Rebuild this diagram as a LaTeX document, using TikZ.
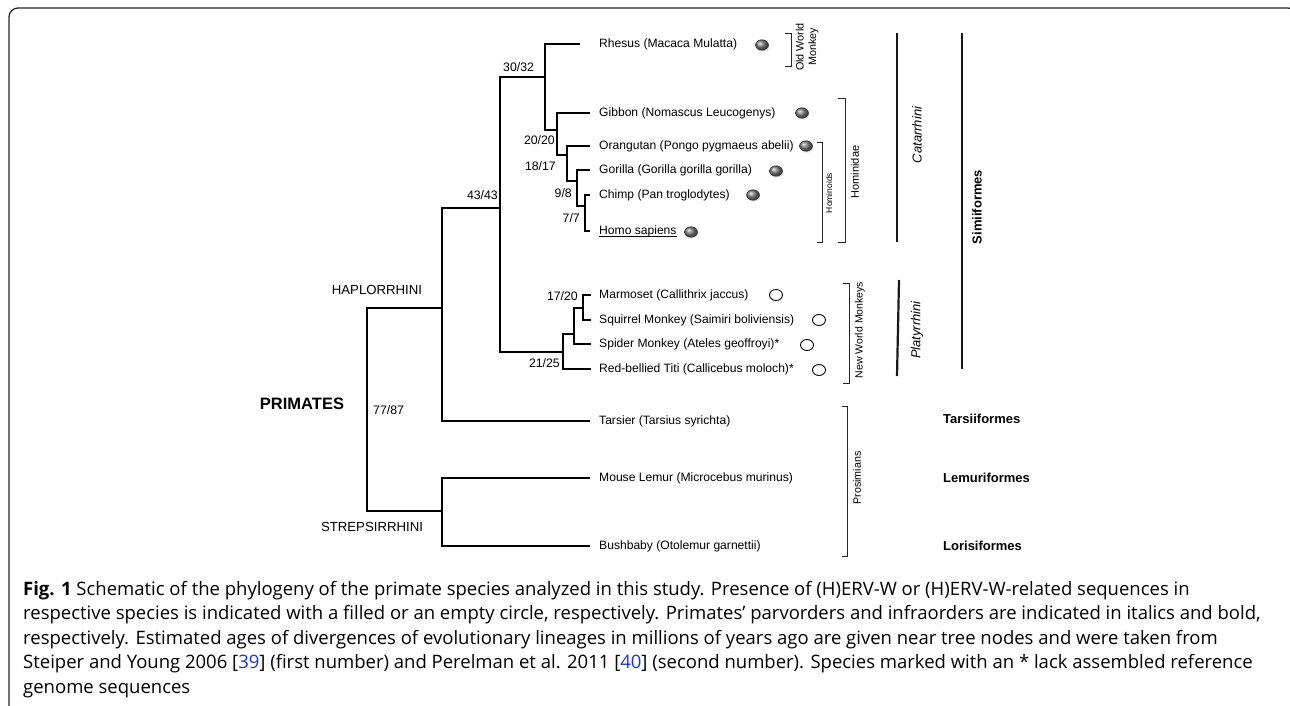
\documentclass[tikz,border=0pt]{standalone}
\usepackage{fontspec}
\setmainfont{Liberation Sans}
\newfontfamily\capfont{Open Sans}
\usetikzlibrary{shapes.geometric,shadows}
\definecolor{refblue}{RGB}{25,55,225}
\definecolor{framegray}{RGB}{40,40,40}
\begin{document}
\begin{tikzpicture}[x=1pt,y=-1pt,
  branch/.style={line width=1.5pt,black},
  species/.style={anchor=west,inner sep=0pt,font=\fontsize{12.1}{14}\selectfont},
  age/.style={inner sep=0pt,font=\fontsize{12.3}{14}\selectfont},
  cladelbl/.style={inner sep=0pt,font=\fontsize{13.2}{15}\selectfont},
  infra/.style={inner sep=0pt,font=\bfseries\fontsize{13}{15}\selectfont},
  parv/.style={inner sep=0pt,rotate=90,font=\itshape\fontsize{13}{15}\selectfont},
  grp/.style={inner sep=0pt,rotate=90,align=center},
  brk/.style={line width=0.9pt,black!85},
  bar/.style={line width=2.2pt,black!90},
  fball/.style={ellipse,minimum width=13pt,minimum height=10.5pt,inner sep=0pt,
    draw=black!80,line width=0.5pt,shading=ball,ball color=black!50,
    drop shadow={shadow xshift=0.8pt,shadow yshift=-1.5pt,opacity=0.22}},
  ering/.style={ellipse,minimum width=13pt,minimum height=11pt,inner sep=0pt,
    draw=black,line width=0.9pt,fill=white},
  capline/.style={anchor=base west,inner sep=0pt,font=\capfont\fontsize{18.5}{22}\selectfont},
  frame/.style={line width=1.3pt,framegray,rounded corners=9pt}
]
\useasboundingbox (0,0) rectangle (1290,706);
\fill[white] (0,0) rectangle (1290,706);

% frame
\draw[frame] (9,715) -- (9,8) -- (1297,8) -- (1297,715);

% species labels
\node[species] (rhesus)  at (599,44)  {Rhesus (Macaca Mulatta)};
\node[species] (gibbon)  at (599,113) {Gibbon (Nomascus Leucogenys)};
\node[species] (orang)   at (599,146) {Orangutan (Pongo pygmaeus abelii)};
\node[species] (gorilla) at (599,170) {Gorilla (Gorilla gorilla gorilla)};
\node[species] (chimp)   at (599,195) {Chimp (Pan troglodytes)};
\node[species] (homo)    at (599,231) {Homo sapiens};
\node[species] (marm)    at (599,295) {Marmoset (Callithrix jaccus)};
\node[species] (squir)   at (599,320) {Squirrel Monkey (Saimiri boliviensis)};
\node[species] (spider)  at (599,344) {Spider Monkey (Ateles geoffroyi)*};
\node[species] (titi)    at (599,369) {Red-bellied Titi (Callicebus moloch)*};
\node[species] (tarsier) at (599,421) {Tarsier (Tarsius syrichta)};
\node[species] (lemur)   at (599,478) {Mouse Lemur (Microcebus murinus)};
\node[species] (bush)    at (599,546) {Bushbaby (Otolemur garnettii)};
\draw[line width=1.3pt] ([yshift=-2.6pt]homo.base west) -- ([yshift=-2.6pt]homo.base east);

% branch tips
\coordinate (tRhesus)  at (580,44);
\coordinate (tGibbon)  at (590,113);
\coordinate (tOrang)   at (590,146);
\coordinate (tGorilla) at (590,170);
\coordinate (tChimp)   at (590,195);
\coordinate (tHomo)    at (590,231);
\coordinate (tMarm)    at (591,295);
\coordinate (tSquir)   at (591,320);
\coordinate (tSpider)  at (591,344);
\coordinate (tTiti)    at (591,369);
\coordinate (tTarsier) at (590,421);
\coordinate (tLemur)   at (590,478);
\coordinate (tBush)    at (590,546);

% internal nodes
\coordinate (nRoot) at (367,410);
\coordinate (nHap)  at (442,308);
\coordinate (nStr)  at (442,511);
\coordinate (nAnth) at (500,208);
\coordinate (nCat)  at (545,77);
\coordinate (nHom1) at (557,130);
\coordinate (nHom2) at (567,155);
\coordinate (nHom3) at (577,181);
\coordinate (nHom4) at (585,206);
\coordinate (nPla1) at (563,352);
\coordinate (nPla2) at (574,334);
\coordinate (nPla3) at (583,308);

% tree
\draw[branch] (nHap) -| (nRoot) |- (nStr);
\draw[branch] (nAnth) -| (nHap) |- (tTarsier);
\draw[branch] (tLemur) -| (nStr) |- (tBush);
\draw[branch] (nCat) -| (nAnth) |- (nPla1);
\draw[branch] (tRhesus) -| (nCat) |- (nHom1);
\draw[branch] (tGibbon) -| (nHom1) |- (nHom2);
\draw[branch] (tOrang) -| (nHom2) |- (nHom3);
\draw[branch] (tGorilla) -| (nHom3) |- (nHom4);
\draw[branch] (tChimp) -| (nHom4) |- (tHomo);
\draw[branch] (nPla2) -| (nPla1) |- (tTiti);
\draw[branch] (nPla3) -| (nPla2) |- (tSpider);
\draw[branch] (tMarm) -| (nPla3) |- (tSquir);

% ages
\node[age,anchor=west] (a3032) at (503,67)  {30/32};
\node[age,anchor=east] (a4343) at (498,195) {43/43};
\node[age,anchor=east] (a2020) at (555,140) {20/20};
\node[age,anchor=east] (a1817) at (556,166) {18/17};
\node[age,anchor=east] (a98)   at (572,193) {9/8};
\node[age,anchor=east] (a77)   at (580,218) {7/7};
\node[age,anchor=east] (a2125) at (560,363) {21/25};
\node[age,anchor=east] (a1720) at (578,296) {17/20};
\node[age,anchor=west] (a7787) at (373,410) {77/87};

% clade labels
\node[cladelbl] (hap) at (377,290) {HAPLORRHINI};
\node[cladelbl] (str) at (372,527) {STREPSIRRHINI};
\node[inner sep=0pt,font=\bfseries\fontsize{16.5}{18}\selectfont] (prim) at (302,404) {PRIMATES};

% circles
\node[fball] (bRhesus)  at (762,45)  {};
\node[fball] (bGibbon)  at (802,113) {};
\node[fball] (bOrang)   at (806,146) {};
\node[fball] (bGorilla) at (776,171) {};
\node[fball] (bChimp)   at (753,195) {};
\node[fball] (bHomo)    at (691,232) {};
\node[ering] (eMarm)   at (776,295) {};
\node[ering] (eSquir)  at (819,320) {};
\node[ering] (eSpider) at (807,345) {};
\node[ering] (eTiti)   at (819,370) {};

% brackets
\draw[brk] (785,33) -- (791,33) -- (791,66) -- (785,66);
\draw[brk] (817,142) -- (822,142) -- (822,242) -- (817,242);
\draw[brk] (838,98) -- (845,98) -- (845,242) -- (838,242);
\draw[brk] (843,283) -- (849,283) -- (849,383) -- (843,383);
\draw[brk] (842,406) -- (847,406) -- (847,556) -- (842,556);

\node[grp,font=\fontsize{10.8}{12.5}\selectfont] (owm) at (807,47) {Old World\\Monkey};
\node[grp,font=\fontsize{8.5}{10}\selectfont] (hominoids) at (829,193) {Hominoids};
\node[grp,font=\fontsize{11}{13}\selectfont] (hominidae) at (855,172) {Hominidae};
\node[grp,font=\fontsize{10.5}{12}\selectfont] (nwm) at (860,330) {New World Monkeys};
\node[grp,font=\fontsize{10.7}{12}\selectfont] (pros) at (857,478) {Prosimians};

% parvorder / infraorder bars
\draw[bar] (897,33) -- (897,242);
\draw[bar] (899,280) -- (897,376);
\draw[bar] (962,33) -- (962,369);
\node[parv] (cat) at (917,135) {Catarrhini};
\node[parv] (pla) at (917,330) {Platyrrhini};
\node[infra,rotate=90] (simi) at (977,207) {Simiiformes};
\node[infra,anchor=west] (tars) at (943,419) {Tarsiiformes};
\node[infra,anchor=west] (lemu) at (943,478) {Lemuriformes};
\node[infra,anchor=west] (lori) at (943,546) {Lorisiformes};

% caption
\node[capline] (cap1) at (23,595) {\textbf{Fig. 1} Schematic of the phylogeny of the primate species analyzed in this study. Presence of (H)ERV-W or (H)ERV-W-related sequences in};
\node[capline] (cap2) at (23,619.5) {respective species is indicated with a filled or an empty circle, respectively. Primates’ parvorders and infraorders are indicated in italics and bold,};
\node[capline] (cap3) at (23,644) {respectively. Estimated ages of divergences of evolutionary lineages in millions of years ago are given near tree nodes and were taken from};
\node[capline] (cap4) at (23,668.5) {Steiper and Young 2006 [\textcolor{refblue}{39}] (first number) and Perelman et al. 2011 [\textcolor{refblue}{40}] (second number). Species marked with an * lack assembled reference};
\node[capline] (cap5) at (23,693) {genome sequences};
\end{tikzpicture}
\end{document}
